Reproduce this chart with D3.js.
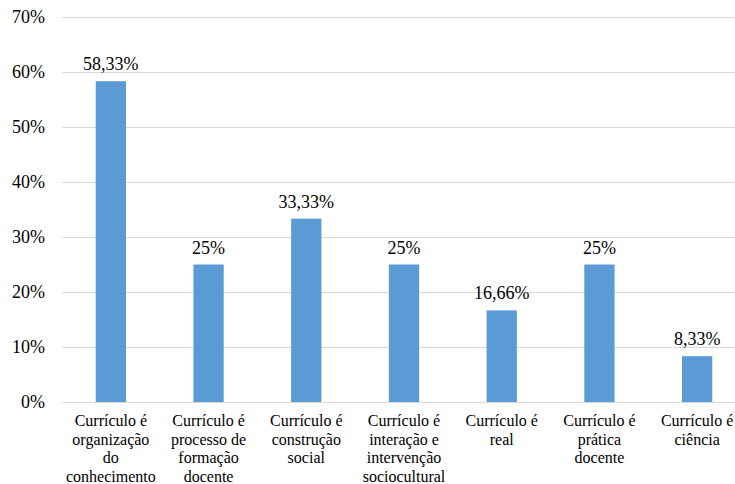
<!DOCTYPE html>
<html>
<meta charset="utf-8"/>
<head>
<style>
  body { margin: 0; background: #fff; }
</style>
</head>
<body>
<svg id="chart" width="735" height="484">
  <style>text { font-family: "Times New Roman", "Liberation Serif", Tinos, serif; }</style>
</svg>

<script src="https://d3js.org/d3.v7.min.js"></script>
<script>
// data
let categories = [
  "Currículo é\norganização\ndo\nconhecimento",
  "Currículo é\nprocesso de\nformação\ndocente",
  "Currículo é\nconstrução\nsocial",
  "Currículo é\ninteração e\nintervenção\nsociocultural",
  "Currículo é\nreal",
  "Currículo é\nprática\ndocente",
  "Currículo é\nciência"
]
let values = [58.33, 25, 33.33, 25, 16.66, 25, 8.33]
let valueLabels = ["58,33%", "25%", "33,33%", "25%", "16,66%", "25%", "8,33%"]
let yTicks = [0, 10, 20, 30, 40, 50, 60, 70]

let width = 735, height = 484
let plotLeft = 62, plotRight = 746, plotTop = 17, plotBottom = 402
let serif = "Times New Roman"

let svg = d3.select("#chart")

let x = d3.scaleBand()
          .domain(d3.range(categories.length))
          .range([plotLeft, plotRight])
          .paddingInner(0.69)
          .paddingOuter(0.345)

let y = d3.scaleLinear()
          .domain([0, 70])
          .range([plotBottom, plotTop])

// gridlines
svg.append("g")
   .selectAll("line")
   .data(yTicks)
   .enter()
   .append("line")
   .attr("x1", plotLeft)
   .attr("x2", width)
   .attr("y1", d => y(d) + 0.5)
   .attr("y2", d => y(d) + 0.5)
   .attr("stroke", "#d9d9d9")
   .attr("stroke-width", 1)

// y labels
svg.append("g")
   .selectAll("text")
   .data(yTicks)
   .enter()
   .append("text")
   .attr("x", 45)
   .attr("y", d => y(d))
   .attr("dy", "0.35em")
   .attr("text-anchor", "end")
   .attr("font-family", serif)
   .attr("font-size", 18)
   .text(d => d + "%")

// bars
svg.append("g")
   .selectAll("rect")
   .data(values)
   .enter()
   .append("rect")
   .attr("x", (d, i) => x(i))
   .attr("y", d => y(d))
   .attr("width", x.bandwidth())
   .attr("height", d => plotBottom - y(d))
   .attr("fill", "#5b9bd5")

// value labels
svg.append("g")
   .selectAll("text")
   .data(values)
   .enter()
   .append("text")
   .attr("x", (d, i) => x(i) + x.bandwidth() / 2)
   .attr("y", d => y(d) - 11)
   .attr("text-anchor", "middle")
   .attr("font-family", serif)
   .attr("font-size", 18)
   .text((d, i) => valueLabels[i])

// category labels
let cats = svg.append("g")
   .selectAll("text")
   .data(categories)
   .enter()
   .append("text")
   .attr("text-anchor", "middle")
   .attr("font-family", serif)
   .attr("font-size", 16)

cats.selectAll("tspan")
    .data((d, i) => d.split("\n").map(s => ({ s: s, i: i })))
    .enter()
    .append("tspan")
    .attr("x", d => x(d.i) + x.bandwidth() / 2)
    .attr("y", (d, j) => 426 + j * 18.5)
    .text(d => d.s)
</script>
</body>
</html>
